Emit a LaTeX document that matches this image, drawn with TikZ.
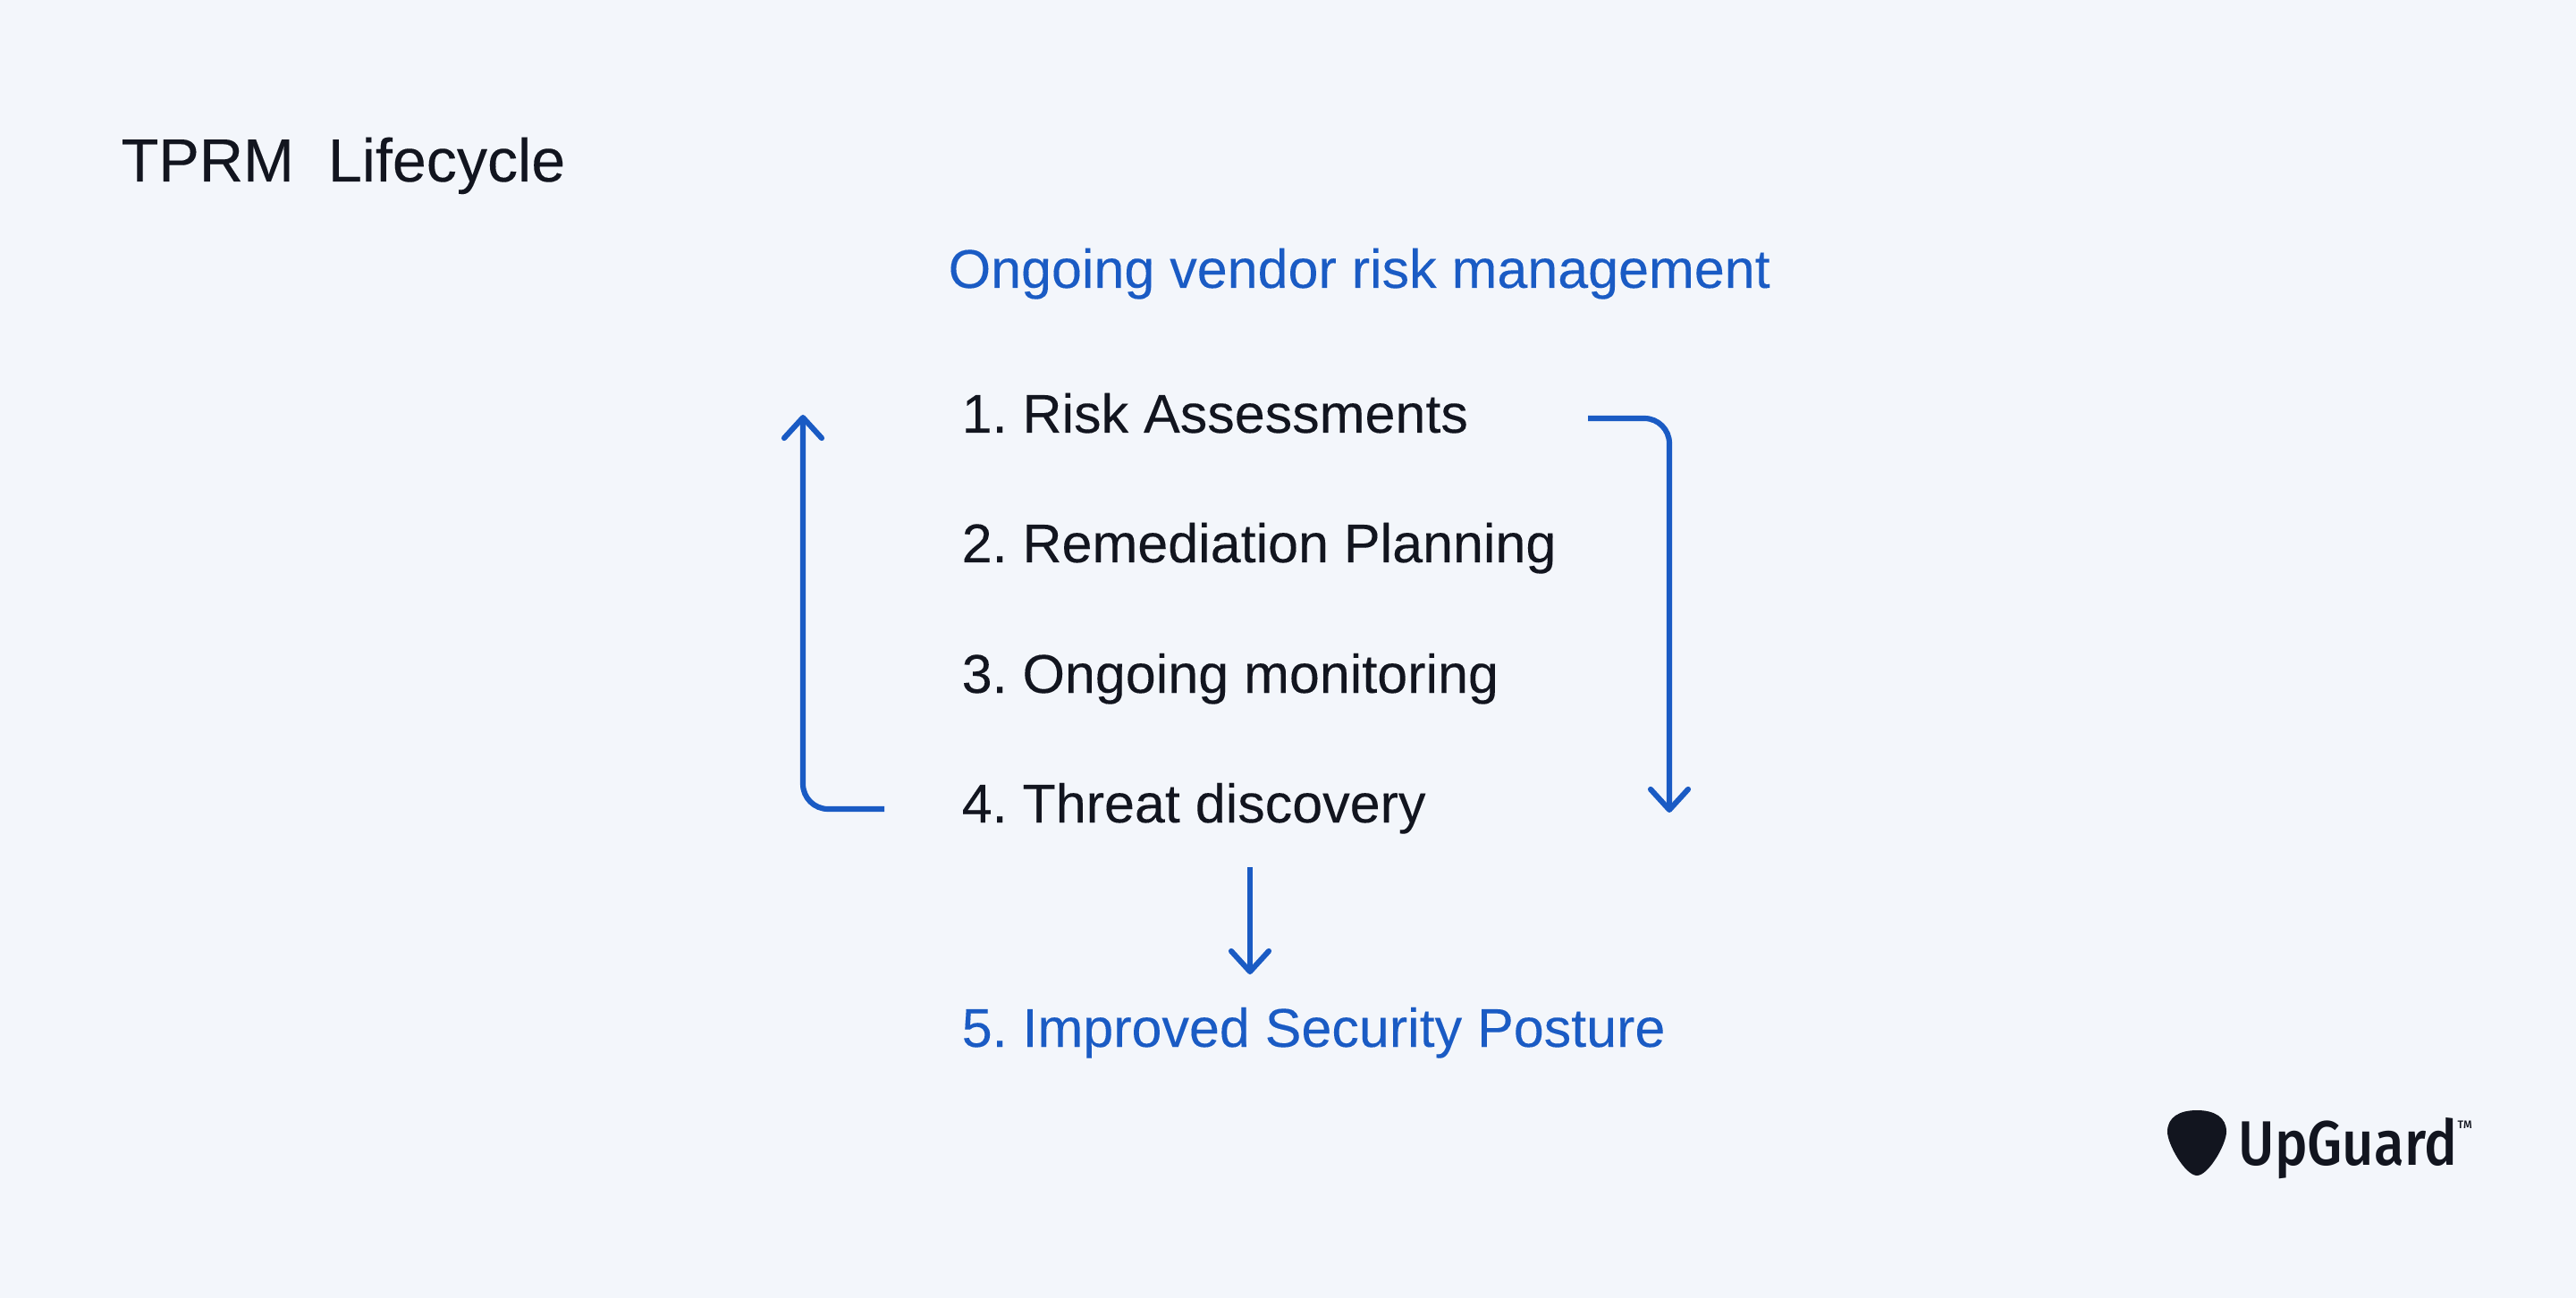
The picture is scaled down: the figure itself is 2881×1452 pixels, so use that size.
\documentclass[tikz,border=0pt]{standalone}
\usepackage{fontspec}
\setmainfont{Liberation Sans}[FakeBold=0.12]
\newfontfamily\logofont{Fira Sans Medium}
\usetikzlibrary{arrows.meta}
\definecolor{pagebg}{HTML}{F3F6FB}
\definecolor{upblue}{HTML}{1A5BC4}
\definecolor{upink}{HTML}{12151F}
\tikzset{
  item/.style={anchor=base west, inner sep=0pt, text=upink, font=\fontsize{17.35}{20}\selectfont},
  blueitem/.style={item, text=upblue},
  flow/.style={draw=upblue, line width=1.75pt, rounded corners=0.28cm,
    -{Straight Barb[length=0.23cm, width=0.42cm, line width=1.75pt, round]}}
}
\begin{document}
\begin{tikzpicture}[x=0.01cm, y=-0.01cm]
                \path[use as bounding box, fill=pagebg] (0,0) rectangle (2881,1452);

                \node[item, font=\fontsize{19.4}{22}\selectfont] (title) at (135,203) {TPRM\ \ Lifecycle};
                \node[blueitem] (ongoing) at (1060,322) {Ongoing vendor risk management};

                \node[item] (risk) at (1075,484) {1.\ Risk Assessments};
                \node[item] (plan) at (1075,629) {2.\ Remediation Planning};
                \node[item] (monitor) at (1075,775) {3.\ Ongoing monitoring};
                \node[item] (threat) at (1075,920) {4.\ Threat discovery};
                \node[blueitem] (posture) at (1075,1171) {5.\ Improved Security Posture};

                \coordinate (rightin) at (1776,468);
                \coordinate (rightout) at (1867,909);
                \coordinate (leftin) at (989,905);
                \coordinate (leftout) at (898,464);
                \coordinate (downin) at (1398,970);
                \coordinate (downout) at (1398,1090);

                \draw[flow] (rightin) -| (rightout);
                \draw[flow] (leftin) -| (leftout);
                \draw[flow] (downin) -- (downout);

                % logo
                \fill[upink] (2457,1242) .. controls (2477,1242) and (2490,1250) .. (2490,1266)
                  .. controls (2490,1280) and (2470,1315) .. (2457,1315)
                  .. controls (2444,1315) and (2424,1280) .. (2424,1266)
                  .. controls (2424,1250) and (2437,1242) .. (2457,1242) -- cycle;
                \node[anchor=base west, inner sep=0pt, text=upink, xscale=0.875, font=\logofont\fontsize{20}{22}\selectfont] (logo) at (2503,1303) {UpGuard};
                \node[anchor=base west, inner sep=0pt, text=upink, font=\logofont\fontsize{3.5}{4}\selectfont] (tm) at (2748,1262) {TM};
            \end{tikzpicture}
\end{document}
